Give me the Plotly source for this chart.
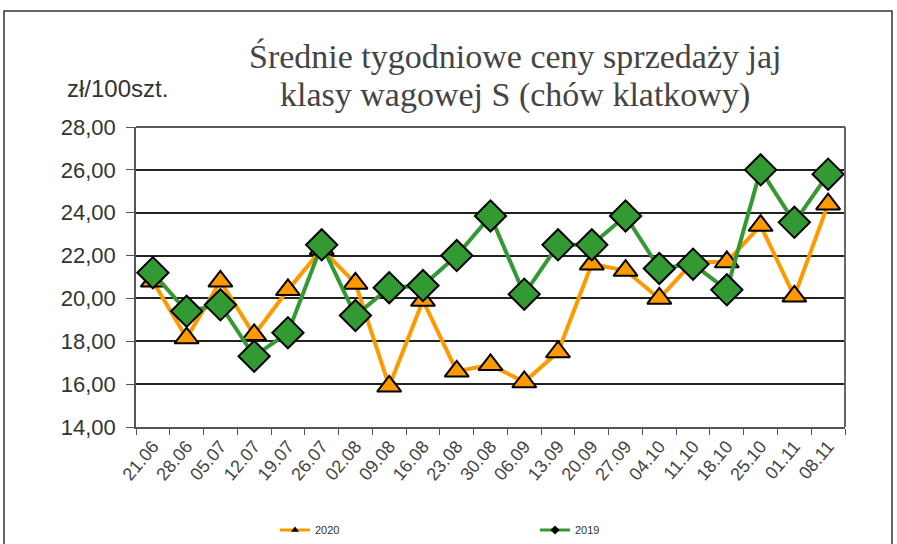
import plotly.graph_objects as go

weeks = ["21.06", "28.06", "05.07", "12.07", "19.07", "26.07", "02.08", "09.08",
         "16.08", "23.08", "30.08", "06.09", "13.09", "20.09", "27.09", "04.10",
         "11.10", "18.10", "25.10", "01.11", "08.11"]
prices_2020 = [20.8, 18.15, 20.8, 18.3, 20.4, 22.3, 20.7, 15.9, 19.9, 16.6, 16.9,
               16.1, 17.5, 21.6, 21.3, 20.0, 21.7, 21.7, 23.4, 20.1, 24.4]
prices_2019 = [21.2, 19.4, 19.7, 17.3, 18.4, 22.5, 19.2, 20.5, 20.6, 22.0, 23.85,
               20.2, 22.5, 22.5, 23.85, 21.4, 21.6, 20.4, 26.0, 23.55, 25.8]
y_ticks = [14, 16, 18, 20, 22, 24, 26, 28]

ORANGE = "#FF9900"
GREEN = "#339933"

fig = go.Figure()
fig.add_trace(go.Scatter(
    x=weeks, y=prices_2020, mode="lines+markers", name="2020", showlegend=False,
    line=dict(color=ORANGE, width=4),
    marker=dict(symbol="triangle-up", size=21, color=ORANGE,
                line=dict(color="black", width=2))))
fig.add_trace(go.Scatter(
    x=weeks, y=prices_2019, mode="lines+markers", name="2019", showlegend=False,
    line=dict(color=GREEN, width=4),
    marker=dict(symbol="diamond", size=24, color=GREEN,
                line=dict(color="black", width=2))))
# legend entries
fig.add_trace(go.Scatter(
    x=[None], y=[None], mode="lines+markers", name="2020",
    line=dict(color=ORANGE, width=3),
    marker=dict(symbol="triangle-up", size=7, color="black")))
fig.add_trace(go.Scatter(
    x=[None], y=[None], mode="lines+markers", name="2019",
    line=dict(color=GREEN, width=3),
    marker=dict(symbol="diamond", size=7, color="black")))

W, H = 897, 544
L, R, T, B = 136, 52, 127, 117
pw, ph = W - L - R, H - T - B

def px(xp):
    return (xp - L) / pw

def py(yp):
    return (H - B - yp) / ph

fig.update_layout(
    width=W, height=H,
    margin=dict(l=L, r=R, t=T, b=B, autoexpand=False),
    paper_bgcolor="white", plot_bgcolor="white",
    separators=", ",
    font=dict(family="Liberation Sans, Arial, sans-serif", color="#333333"),
    showlegend=True,
    legend=dict(orientation="h", x=px(275), y=py(530), xanchor="left", yanchor="middle",
                entrywidth=215, entrywidthmode="pixels",
                font=dict(size=11, color="#333333"), bgcolor="rgba(0,0,0,0)"),
    xaxis=dict(type="category", range=[-0.5, len(weeks) - 0.5], automargin=False,
               showgrid=False, showline=True, linecolor="#555555", linewidth=1.5,
               ticks="outside", ticklen=6, tickcolor="#555555",
               tickson="boundaries",
               tickangle=-50, tickfont=dict(size=18, color="#444444"),
               mirror=False, zeroline=False),
    yaxis=dict(range=[14, 28], tickvals=y_ticks, tickformat=".2f", automargin=False,
               showgrid=True, gridcolor="#222222", gridwidth=1.5,
               showline=True, linecolor="#555555", linewidth=1.5,
               ticks="outside", ticklen=8, tickcolor="#555555",
               ticklabelstandoff=6,
               tickfont=dict(size=22, color="#333333"), zeroline=False),
)
# top gridline and right border of plot
fig.add_shape(type="line", xref="paper", yref="paper", x0=0, x1=1, y0=1, y1=1,
              line=dict(color="#222222", width=1.5))
fig.add_shape(type="line", xref="paper", yref="paper", x0=1, x1=1, y0=0, y1=1,
              line=dict(color="#666666", width=2))
# outer frame
fig.add_shape(type="rect", xref="paper", yref="paper",
              x0=px(4), x1=px(892), y0=py(580), y1=py(11),
              line=dict(color="#333333", width=1.5), layer="below")

fig.add_annotation(text="Średnie tygodniowe ceny sprzedaży jaj", xref="paper", yref="paper",
                   x=px(515), y=py(56), xanchor="center", yanchor="middle", showarrow=False,
                   font=dict(family="Liberation Serif, serif", size=34, color="#444444"))
fig.add_annotation(text="klasy wagowej S (chów klatkowy)", xref="paper", yref="paper",
                   x=px(515), y=py(95), xanchor="center", yanchor="middle", showarrow=False,
                   font=dict(family="Liberation Serif, serif", size=34, color="#444444"))
fig.add_annotation(text="zł/100szt.", xref="paper", yref="paper",
                   x=px(117), y=py(88), xanchor="center", yanchor="middle", showarrow=False,
                   font=dict(size=24, color="#333333"))

fig.write_html("out.html", config={"displayModeBar": False},
               post_script="document.body.style.margin='0';")
